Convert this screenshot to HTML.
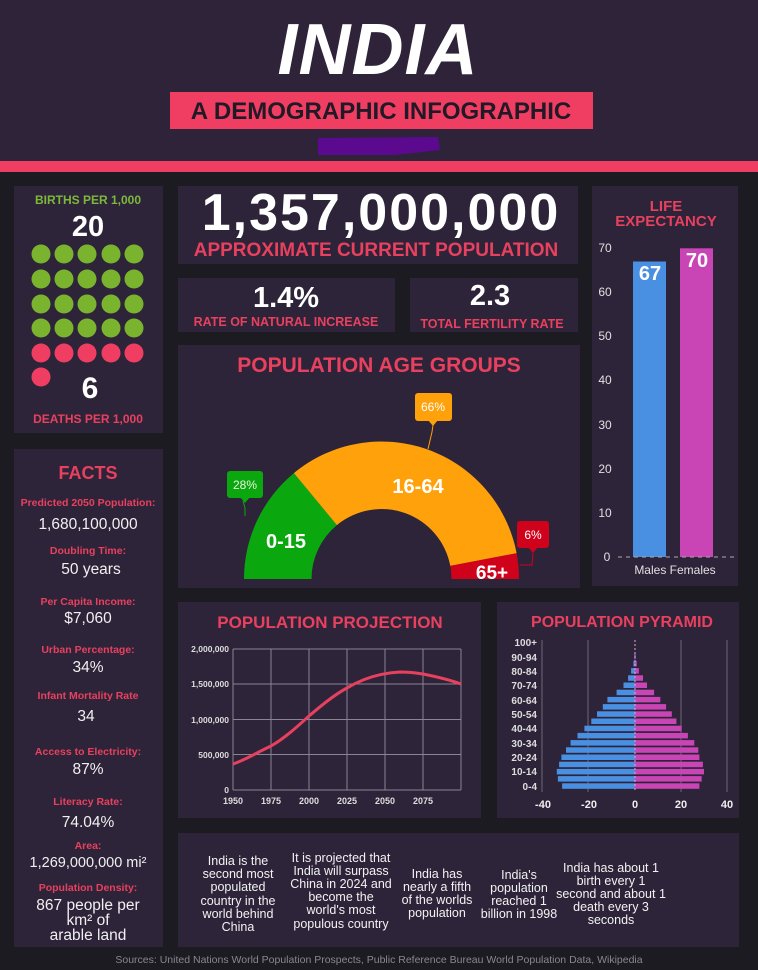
<!DOCTYPE html>
<html><head><meta charset="utf-8"><style>
html,body{margin:0;padding:0;background:#1c1b21;}
svg{display:block;}
text{font-family:"Liberation Sans",sans-serif;}
</style></head><body>
<svg width="758" height="970" viewBox="0 0 758 970" xmlns="http://www.w3.org/2000/svg">
<rect width="758" height="970" fill="#1c1b21"/>
<!-- header -->
<rect x="0" y="0" width="758" height="161" fill="#2e2338"/>
<rect x="0" y="161" width="758" height="11" fill="#ef3e62"/>
<text x="378" y="74" text-anchor="middle" font-size="72" font-weight="bold" font-style="italic" fill="#fff" letter-spacing="1">INDIA</text>
<rect x="170" y="92" width="423" height="37" fill="#ef3e62"/>
<text x="381" y="119" text-anchor="middle" font-size="24" font-weight="bold" fill="#211a26">A DEMOGRAPHIC INFOGRAPHIC</text>
<path d="M318,138 L438,137 L440,150 L395,155 L318,155 Z" fill="#5b0a90"/>

<!-- panels -->
<g fill="#2e2439">
<rect x="14" y="186" width="149" height="247"/>
<rect x="178" y="186" width="400" height="78"/>
<rect x="178" y="278" width="217" height="54"/>
<rect x="410" y="278" width="168" height="54"/>
<rect x="178" y="345" width="402" height="243"/>
<rect x="592" y="186" width="146" height="400"/>
<rect x="14" y="449" width="149" height="498"/>
<rect x="178" y="602" width="303" height="216"/>
<rect x="497" y="602" width="242" height="216"/>
<rect x="178" y="833" width="561" height="114"/>
</g>

<!-- births -->
<text x="88" y="204" text-anchor="middle" font-size="12" font-weight="bold" fill="#7db83a">BIRTHS PER 1,000</text>
<text x="88" y="236" text-anchor="middle" font-size="29" font-weight="bold" fill="#fff">20</text>
<g fill="#7ab32e">
<circle cx="41" cy="254" r="9.5"/><circle cx="64" cy="254" r="9.5"/><circle cx="87" cy="254" r="9.5"/><circle cx="111" cy="254" r="9.5"/><circle cx="134" cy="254" r="9.5"/>
<circle cx="41" cy="279" r="9.5"/><circle cx="64" cy="279" r="9.5"/><circle cx="87" cy="279" r="9.5"/><circle cx="111" cy="279" r="9.5"/><circle cx="134" cy="279" r="9.5"/>
<circle cx="41" cy="304" r="9.5"/><circle cx="64" cy="304" r="9.5"/><circle cx="87" cy="304" r="9.5"/><circle cx="111" cy="304" r="9.5"/><circle cx="134" cy="304" r="9.5"/>
<circle cx="41" cy="328" r="9.5"/><circle cx="64" cy="328" r="9.5"/><circle cx="87" cy="328" r="9.5"/><circle cx="111" cy="328" r="9.5"/><circle cx="134" cy="328" r="9.5"/>
</g>
<g fill="#ef3e62">
<circle cx="41" cy="353" r="9.5"/><circle cx="64" cy="353" r="9.5"/><circle cx="87" cy="353" r="9.5"/><circle cx="111" cy="353" r="9.5"/><circle cx="134" cy="353" r="9.5"/>
<circle cx="41" cy="377" r="9.5"/>
</g>
<text x="90" y="398" text-anchor="middle" font-size="30" font-weight="bold" fill="#fff">6</text>
<text x="88" y="423" text-anchor="middle" font-size="12" font-weight="bold" fill="#e8405f">DEATHS PER 1,000</text>

<!-- population -->
<text x="381" y="230" text-anchor="middle" font-size="52" font-weight="bold" fill="#fff" letter-spacing="2">1,357,000,000</text>
<text x="376" y="256" text-anchor="middle" font-size="19" font-weight="bold" fill="#e8405f">APPROXIMATE CURRENT POPULATION</text>
<text x="286" y="307" text-anchor="middle" font-size="29" font-weight="bold" fill="#fff">1.4%</text>
<text x="286" y="326" text-anchor="middle" font-size="12.5" font-weight="bold" fill="#e8405f">RATE OF NATURAL INCREASE</text>
<text x="490" y="305" text-anchor="middle" font-size="29" font-weight="bold" fill="#fff">2.3</text>
<text x="492" y="328" text-anchor="middle" font-size="12.5" font-weight="bold" fill="#e8405f">TOTAL FERTILITY RATE</text>

<!-- age groups -->
<text x="379" y="372" text-anchor="middle" font-size="21" font-weight="bold" fill="#e8405f">POPULATION AGE GROUPS</text>
<path d="M244,579 A137.5,137.5 0 0 1 293.9,473.1 L336.9,525.1 A70,70 0 0 0 311.5,579 Z" fill="#0aa80e"/>
<path d="M293.9,473.1 A137.5,137.5 0 0 1 516.6,553.2 L450.3,565.9 A70,70 0 0 0 336.9,525.1 Z" fill="#fea10a"/>
<path d="M516.6,553.2 A137.5,137.5 0 0 1 519,579 L451.5,579 A70,70 0 0 0 450.3,565.9 Z" fill="#d0021b"/>
<polyline points="245,516 245,508 243,501" fill="none" stroke="#0aa80e" stroke-width="1"/>
<rect x="227" y="471" width="36" height="27" rx="3" fill="#0aa80e"/><path d="M240,497 L245,503 L250,497Z" fill="#0aa80e"/>
<text x="245" y="489" text-anchor="middle" font-size="12" fill="#e8f5e0">28%</text>
<polyline points="428,449 432,432 433,425" fill="none" stroke="#fea10a" stroke-width="1"/>
<rect x="415" y="393" width="37" height="28" rx="3" fill="#fea10a"/><path d="M428,420 L433,426 L438,420Z" fill="#fea10a"/>
<text x="433" y="411" text-anchor="middle" font-size="12" fill="#fff">66%</text>
<polyline points="520,565 532,565 533,553" fill="none" stroke="#d0021b" stroke-width="1"/>
<rect x="517" y="521" width="32" height="27" rx="3" fill="#d0021b"/><path d="M528,547 L533,553 L538,547Z" fill="#d0021b"/>
<text x="533" y="539" text-anchor="middle" font-size="12" fill="#fff">6%</text>
<text x="286" y="548" text-anchor="middle" font-size="20" font-weight="bold" fill="#fff">0-15</text>
<text x="418" y="493" text-anchor="middle" font-size="20" font-weight="bold" fill="#fff">16-64</text>
<text x="492" y="579" text-anchor="middle" font-size="19" font-weight="bold" fill="#fff">65+</text>

<!-- life expectancy -->
<text x="666" y="211" text-anchor="middle" font-size="15" font-weight="bold" fill="#e8405f">LIFE</text>
<text x="666" y="226" text-anchor="middle" font-size="15" font-weight="bold" fill="#e8405f">EXPECTANCY</text>
<g font-size="12" fill="#e0e0e0" text-anchor="middle">
<text x="605" y="252">70</text><text x="605" y="296">60</text><text x="605" y="340">50</text><text x="605" y="384">40</text><text x="605" y="429">30</text><text x="605" y="473">20</text><text x="605" y="517">10</text><text x="607" y="561">0</text>
</g>
<rect x="633" y="261.5" width="33" height="295.5" fill="#4a90e2"/>
<rect x="680" y="248.3" width="33" height="308.7" fill="#c944b4"/>
<line x1="618" y1="557" x2="736" y2="557" stroke="#aaa" stroke-width="1" stroke-dasharray="4,4"/>
<text x="650" y="280" text-anchor="middle" font-size="20" font-weight="bold" fill="#fff">67</text>
<text x="697" y="267" text-anchor="middle" font-size="20" font-weight="bold" fill="#fff">70</text>
<text x="675" y="574" text-anchor="middle" font-size="12" fill="#e0e0e0">Males Females</text>

<!-- facts -->
<text x="88" y="479" text-anchor="middle" font-size="18" font-weight="bold" fill="#e8405f">FACTS</text>
<g text-anchor="middle">
<g font-size="10.5" font-weight="bold" fill="#e8405f">
<text x="88" y="506">Predicted 2050 Population:</text>
<text x="88" y="554">Doubling Time:</text>
<text x="88" y="605">Per Capita Income:</text>
<text x="88" y="653">Urban Percentage:</text>
<text x="88" y="699">Infant Mortality Rate</text>
<text x="88" y="755">Access to Electricity:</text>
<text x="88" y="805">Literacy Rate:</text>
<text x="88" y="849">Area:</text>
<text x="88" y="891">Population Density:</text>
</g>
<g font-size="15.5" fill="#f0f0f0">
<text x="88" y="529">1,680,100,000</text>
<text x="91" y="574">50 years</text>
<text x="88" y="623">$7,060</text>
<text x="88" y="672">34%</text>
<text x="86" y="721">34</text>
<text x="88" y="774">87%</text>
<text x="88" y="827">74.04%</text>
<text x="88" y="867" font-size="14.5">1,269,000,000 mi²</text>
<text x="88" y="910">867 people per</text>
<text x="88" y="925">km² of</text>
<text x="88" y="940">arable land</text>
</g>
</g>

<!-- projection -->
<text x="330" y="628" text-anchor="middle" font-size="17" font-weight="bold" fill="#e8405f">POPULATION PROJECTION</text>
<g stroke="#8a8494" stroke-width="1">
<line x1="233" y1="649" x2="461" y2="649"/><line x1="233" y1="684" x2="461" y2="684"/><line x1="233" y1="719.5" x2="461" y2="719.5"/><line x1="233" y1="754.5" x2="461" y2="754.5"/><line x1="233" y1="790" x2="461" y2="790"/>
<line x1="233" y1="649" x2="233" y2="790"/><line x1="271" y1="649" x2="271" y2="790"/><line x1="309" y1="649" x2="309" y2="790"/><line x1="347" y1="649" x2="347" y2="790"/><line x1="385" y1="649" x2="385" y2="790"/><line x1="423" y1="649" x2="423" y2="790"/><line x1="461" y1="649" x2="461" y2="790"/>
</g>
<g font-size="8.5" fill="#ddd" text-anchor="end" font-weight="bold">
<text x="229" y="652">2,000,000</text><text x="229" y="687">1,500,000</text><text x="229" y="723">1,000,000</text><text x="229" y="758">500,000</text><text x="229" y="793">0</text>
</g>
<g font-size="9" fill="#ddd" text-anchor="middle" font-weight="bold">
<text x="233" y="804">1950</text><text x="271" y="804">1975</text><text x="309" y="804">2000</text><text x="347" y="804">2025</text><text x="385" y="804">2050</text><text x="423" y="804">2075</text>
</g>
<path d="M233,764 C245,760 258,752 271,746 C285,738 298,726 309,716 C322,705 334,695 347,688 C362,679 380,673 400,672 C411,672 416,673 423,674 C438,677 450,680 461,684" fill="none" stroke="#e8405f" stroke-width="3"/>

<!-- pyramid -->
<text x="622" y="627" text-anchor="middle" font-size="16" font-weight="bold" fill="#e8405f">POPULATION PYRAMID</text>
<g stroke="#6e6878" stroke-width="1">
<line x1="542" y1="640" x2="542" y2="792"/><line x1="588" y1="640" x2="588" y2="792"/><line x1="681" y1="640" x2="681" y2="792"/><line x1="727" y1="640" x2="727" y2="792"/>
</g>
<g fill="#4a90e2">
<rect x="562.1" y="783.3" width="72.9" height="5.5"/><rect x="557.9" y="776.1" width="77.1" height="5.5"/><rect x="556.8" y="768.9" width="78.2" height="5.5"/><rect x="559.1" y="761.7" width="75.9" height="5.5"/><rect x="561.4" y="754.5" width="73.6" height="5.5"/><rect x="566" y="747.3" width="69" height="5.5"/><rect x="570.6" y="740.1" width="64.4" height="5.5"/><rect x="577.5" y="732.9" width="57.5" height="5.5"/><rect x="584.4" y="725.7" width="50.6" height="5.5"/><rect x="591.3" y="718.5" width="43.7" height="5.5"/><rect x="597" y="711.3" width="38" height="5.5"/><rect x="602.8" y="704.1" width="32.2" height="5.5"/><rect x="607.4" y="696.9" width="27.6" height="5.5"/><rect x="616.6" y="689.7" width="18.4" height="5.5"/><rect x="623.5" y="682.5" width="11.5" height="5.5"/><rect x="628.1" y="675.3" width="6.9" height="5.5"/><rect x="631.1" y="668.1" width="3.9" height="5.5"/><rect x="633.4" y="660.9" width="1.6" height="5.5"/><rect x="634.3" y="653.7" width="0.7" height="5.5"/>
</g>
<g fill="#c944b4">
<rect x="635" y="783.3" width="64.4" height="5.5"/><rect x="635" y="776.1" width="66.7" height="5.5"/><rect x="635" y="768.9" width="69" height="5.5"/><rect x="635" y="761.7" width="67.9" height="5.5"/><rect x="635" y="754.5" width="64.4" height="5.5"/><rect x="635" y="747.3" width="63.3" height="5.5"/><rect x="635" y="740.1" width="59.3" height="5.5"/><rect x="635" y="732.9" width="52.9" height="5.5"/><rect x="635" y="725.7" width="46.7" height="5.5"/><rect x="635" y="718.5" width="41.4" height="5.5"/><rect x="635" y="711.3" width="36.8" height="5.5"/><rect x="635" y="704.1" width="31.1" height="5.5"/><rect x="635" y="696.9" width="25.3" height="5.5"/><rect x="635" y="689.7" width="19.1" height="5.5"/><rect x="635" y="682.5" width="12" height="5.5"/><rect x="635" y="675.3" width="8" height="5.5"/><rect x="635" y="668.1" width="3.9" height="5.5"/><rect x="635" y="660.9" width="1.8" height="5.5"/><rect x="635" y="653.7" width="0.7" height="5.5"/>
</g>
<line x1="635" y1="640" x2="635" y2="792" stroke="#e8a0d8" stroke-width="1" stroke-dasharray="2,2"/>
<g font-size="10" fill="#ddd" font-weight="bold" text-anchor="end">
<text x="537" y="790">0-4</text><text x="537" y="775">10-14</text><text x="537" y="761">20-24</text><text x="537" y="747">30-34</text><text x="537" y="732">40-44</text><text x="537" y="718">50-54</text><text x="537" y="704">60-64</text><text x="537" y="689">70-74</text><text x="537" y="675">80-84</text><text x="537" y="661">90-94</text><text x="537" y="646">100+</text>
</g>
<g font-size="11" fill="#eee" font-weight="bold" text-anchor="middle">
<text x="543" y="808">-40</text><text x="589" y="808">-20</text><text x="635" y="808">0</text><text x="681" y="808">20</text><text x="727" y="808">40</text>
</g>

<!-- bottom facts -->
<g font-size="12.5" fill="#f2f2f2" text-anchor="middle">
<text x="238" y="865">India is the</text><text x="238" y="878">second most</text><text x="238" y="891">populated</text><text x="238" y="905">country in the</text><text x="238" y="918">world behind</text><text x="238" y="931">China</text>
<text x="341" y="862">It is projected that</text><text x="341" y="875">India will surpass</text><text x="341" y="888">China in 2024 and</text><text x="341" y="901">become the</text><text x="341" y="914">world's most</text><text x="341" y="928">populous country</text>
<text x="437" y="878">India has</text><text x="437" y="891">nearly a fifth</text><text x="437" y="904">of the worlds</text><text x="437" y="917">population</text>
<text x="519" y="879">India's</text><text x="519" y="892">population</text><text x="519" y="905">reached 1</text><text x="519" y="918">billion in 1998</text>
<text x="611" y="872">India has about 1</text><text x="611" y="885">birth every 1</text><text x="611" y="898">second and about 1</text><text x="611" y="911">death every 3</text><text x="611" y="924">seconds</text>
</g>
<text x="379" y="963" text-anchor="middle" font-size="10.5" fill="#8a8690">Sources: United Nations World Population Prospects, Public Reference Bureau World Population Data, Wikipedia</text>
</svg>
</body></html>
